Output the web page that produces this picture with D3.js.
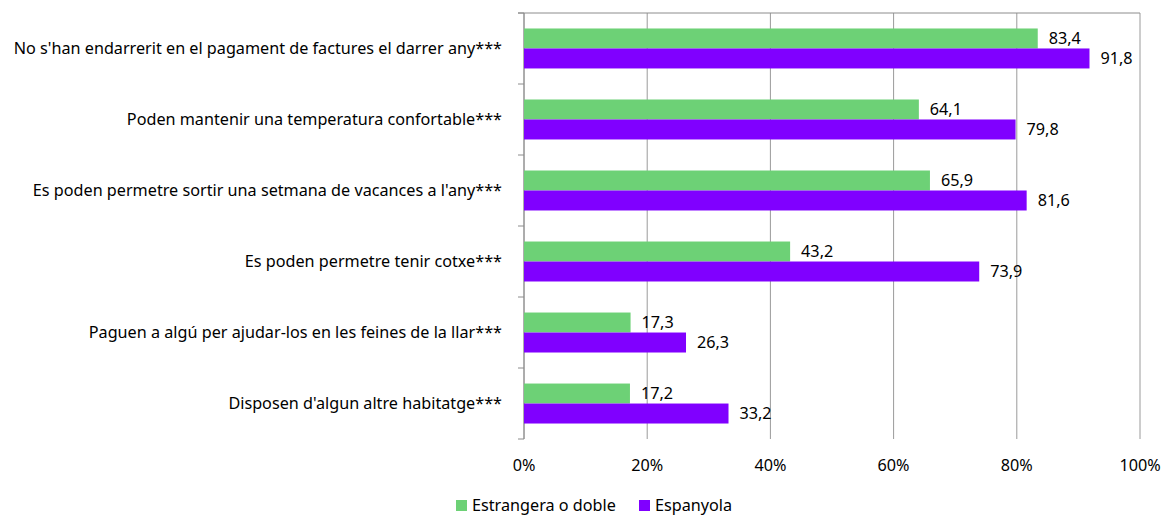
<!DOCTYPE html>
<html>
<head>
<meta charset="utf-8">
<script src="https://cdn.jsdelivr.net/npm/d3@7"></script>
<style>
	body { margin: 0; background: #fff; }
	svg text { font-family: "Noto Sans", "Open Sans", sans-serif; fill: #000; }
</style>
</head>
<body>
<svg id="svg" width="1173" height="515"></svg>
<script>
// categories, top to bottom
var categories = [
	"No s'han endarrerit en el pagament de factures el darrer any***",
	"Poden mantenir una temperatura confortable***",
	"Es poden permetre sortir una setmana de vacances a l'any***",
	"Es poden permetre tenir cotxe***",
	"Paguen a algú per ajudar-los en les feines de la llar***",
	"Disposen d'algun altre habitatge***"
];

var seriesNames = ["Estrangera o doble", "Espanyola"];
var estrangera = [83.4, 64.1, 65.9, 43.2, 17.3, 17.2];
var espanyola = [91.8, 79.8, 81.6, 73.9, 26.3, 33.2];
var xTicks = [0, 20, 40, 60, 80, 100];

var COLORS = ["#6dd176", "#8000ff"];

var svg = d3.select('#svg'),
	margin = { left: 524, right: 33, top: 13, bottom: 76 },
	width = 1173 - margin.left - margin.right,
	height = 515 - margin.top - margin.bottom,
	fontSize = 16.2;

var g = svg.append('g')
	.attr('transform', 'translate(' + margin.left + ',' + margin.top + ')');

var x = d3.scaleLinear().domain([0, 100]).range([0, width]);

var y = d3.scaleBand()
	.domain(categories)
	.range([0, height])
	.paddingInner(0.437)
	.paddingOuter(0.218);

var ySub = d3.scaleBand()
	.domain(seriesNames)
	.range([0, y.bandwidth()]);

// vertical gridlines
g.append('g')
	.selectAll('line')
	.data(xTicks)
	.enter()
	.append('line')
	.attr('x1', function(d){ return x(d); })
	.attr('x2', function(d){ return x(d); })
	.attr('y1', 0)
	.attr('y2', height)
	.style('stroke', '#9a9a9a')
	.style('stroke-width', 1);

// top line (value axis crosses here)
g.append('line')
	.attr('x1', -6).attr('x2', width)
	.attr('y1', 0).attr('y2', 0)
	.style('stroke', '#8c8c8c');

// category axis with tick marks between groups
var yAxisLine = g.append('g');
yAxisLine.append('line')
	.attr('x1', 0).attr('x2', 0)
	.attr('y1', 0).attr('y2', height)
	.style('stroke', '#8c8c8c');
yAxisLine.selectAll('.tk')
	.data(d3.range(categories.length + 1))
	.enter()
	.append('line')
	.attr('class', 'tk')
	.attr('x1', -6).attr('x2', 0)
	.attr('y1', function(i){ return height * i / categories.length; })
	.attr('y2', function(i){ return height * i / categories.length; })
	.style('stroke', '#8c8c8c');

// category labels
g.append('g')
	.selectAll('text')
	.data(categories)
	.enter()
	.append('text')
	.attr('x', -22)
	.attr('y', function(d){ return y(d) + y.bandwidth() / 2; })
	.attr('dy', '0.35em')
	.attr('text-anchor', 'end')
	.style('font-size', fontSize + 'px')
	.text(function(d){ return d; });

// x tick labels at bottom
g.append('g')
	.selectAll('text')
	.data(xTicks)
	.enter()
	.append('text')
	.attr('x', function(d){ return x(d); })
	.attr('y', height + 26)
	.attr('dy', '0.35em')
	.attr('text-anchor', 'middle')
	.style('font-size', fontSize + 'px')
	.text(function(d){ return d + '%'; });

// bars
var rows = categories.map(function(c, i){
	return [
		{ cat: c, series: seriesNames[0], value: estrangera[i], color: COLORS[0] },
		{ cat: c, series: seriesNames[1], value: espanyola[i], color: COLORS[1] }
	];
});
var flat = d3.merge(rows);

var fmt = function(v){ return d3.format('.1f')(v).replace('.', ','); };

g.append('g')
	.selectAll('rect')
	.data(flat)
	.enter()
	.append('rect')
	.attr('x', 0)
	.attr('y', function(d){ return y(d.cat) + ySub(d.series); })
	.attr('width', function(d){ return x(d.value); })
	.attr('height', ySub.bandwidth())
	.style('fill', function(d){ return d.color; });

g.append('g')
	.selectAll('text')
	.data(flat)
	.enter()
	.append('text')
	.attr('x', function(d){ return x(d.value) + 11; })
	.attr('y', function(d){ return y(d.cat) + ySub(d.series) + ySub.bandwidth() / 2; })
	.attr('dy', '0.35em')
	.style('font-size', fontSize + 'px')
	.text(function(d){ return fmt(d.value); });

// legend
var legendX = [456, 639];
var legend = svg.append('g')
	.selectAll('g')
	.data(seriesNames)
	.enter()
	.append('g')
	.attr('transform', function(d, i){ return 'translate(' + legendX[i] + ',500)'; });

legend.append('rect')
	.attr('width', 11)
	.attr('height', 11)
	.style('fill', function(d, i){ return COLORS[i]; });

legend.append('text')
	.attr('x', 16)
	.attr('y', 5.5)
	.attr('dy', '0.35em')
	.style('font-size', fontSize + 'px')
	.text(function(d){ return d; });
</script>
</body>
</html>
